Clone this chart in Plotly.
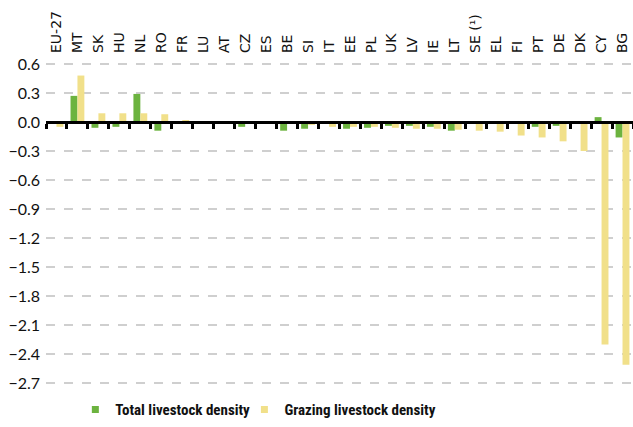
import plotly.graph_objects as go

# Change in livestock density by country
countries = ["EU-27", "MT", "SK", "HU", "NL", "RO", "FR", "LU", "AT", "CZ",
             "ES", "BE", "SI", "IT", "EE", "PL", "UK", "LV", "IE", "LT",
             "SE (¹)", "EL", "FI", "PT", "DE", "DK", "CY", "BG"]
total_density = [-0.02, 0.27, -0.06, -0.05, 0.29, -0.09, -0.01, -0.005, 0.0, -0.05,
                 0.0, -0.09, -0.07, 0.0, -0.07, -0.06, -0.04, -0.04, -0.05, -0.09,
                 0.0, 0.0, -0.02, -0.05, -0.04, 0.0, 0.05, -0.16]
grazing_density = [-0.05, 0.48, 0.09, 0.09, 0.09, 0.08, 0.02, 0.0, 0.0, 0.0,
                   0.0, -0.02, -0.03, -0.05, -0.05, -0.05, -0.06, -0.07, -0.07, -0.08,
                   -0.09, -0.10, -0.14, -0.16, -0.20, -0.30, -2.30, -2.51]
series_names = ["Total livestock density", "Grazing livestock density"]
colors = ["#6cb33f", "#f1e08a"]

y_min, y_max = -2.76, 0.62
label_font = "DejaVu Sans"
tick_font = "Lato"
legend_font = "Liberation Sans Narrow, Roboto Condensed, Roboto"

fig = go.Figure()
legend_ids = ["legend", "legend2"]
for name, vals, col, lg in zip(series_names, [total_density, grazing_density], colors, legend_ids):
    fig.add_trace(go.Bar(x=countries, y=vals, name=name, marker_color=col,
                         marker_line_width=0, showlegend=False))
    # small square legend keys
    fig.add_trace(go.Scatter(x=[None], y=[None], mode="markers", name=name,
                             legend=lg,
                             marker=dict(symbol="square", size=7, color=col)))

# helper trace so the zero-line axis gets drawn
fig.add_trace(go.Scatter(x=[None], y=[None], xaxis="x2", yaxis="y",
                         showlegend=False, hoverinfo="skip"))

n = len(countries)
zero_pos = (0 - y_min) / (y_max - y_min)

legend_style = dict(
    orientation="h", xanchor="left", y=-0.114, yanchor="bottom",
    font=dict(family=legend_font, size=15, color="#111111", weight="bold"),
    itemwidth=30, bgcolor="rgba(0,0,0,0)",
)

fig.update_layout(
    width=633, height=427,
    margin=dict(l=46, r=0, t=62, b=38, autoexpand=False),
    paper_bgcolor="white", plot_bgcolor="white",
    barmode="group", bargap=0.34, bargroupgap=0,
    xaxis=dict(
        type="category", side="top", tickangle=-90,
        showline=False, showgrid=False, zeroline=False, ticks="",
        ticklabelstandoff=8, range=[-0.5, n - 0.5],
        tickfont=dict(family=label_font, size=14, color="#111111"),
    ),
    xaxis2=dict(
        overlaying="x", anchor="free", position=zero_pos,
        range=[-0.5, n - 0.5], showgrid=False, zeroline=False,
        showline=True, linecolor="black", linewidth=3,
        tickmode="array", tickvals=[i - 0.5 for i in range(n + 1)],
        ticks="outside", ticklen=5, tickwidth=2.5, tickcolor="black",
        showticklabels=False,
    ),
    yaxis=dict(
        range=[y_min, y_max], tick0=0, dtick=0.3, tickformat=".1f",
        showgrid=True, gridcolor="#cfcfcf", griddash="dash", gridwidth=1.5,
        zeroline=False, showline=False, ticks="", ticklabelstandoff=5,
        tickfont=dict(family=tick_font, size=16, color="#111111"),
    ),
    legend=dict(x=0.05, **legend_style),
    legend2=dict(x=0.338, **legend_style),
)

fig.write_html("out.html")
